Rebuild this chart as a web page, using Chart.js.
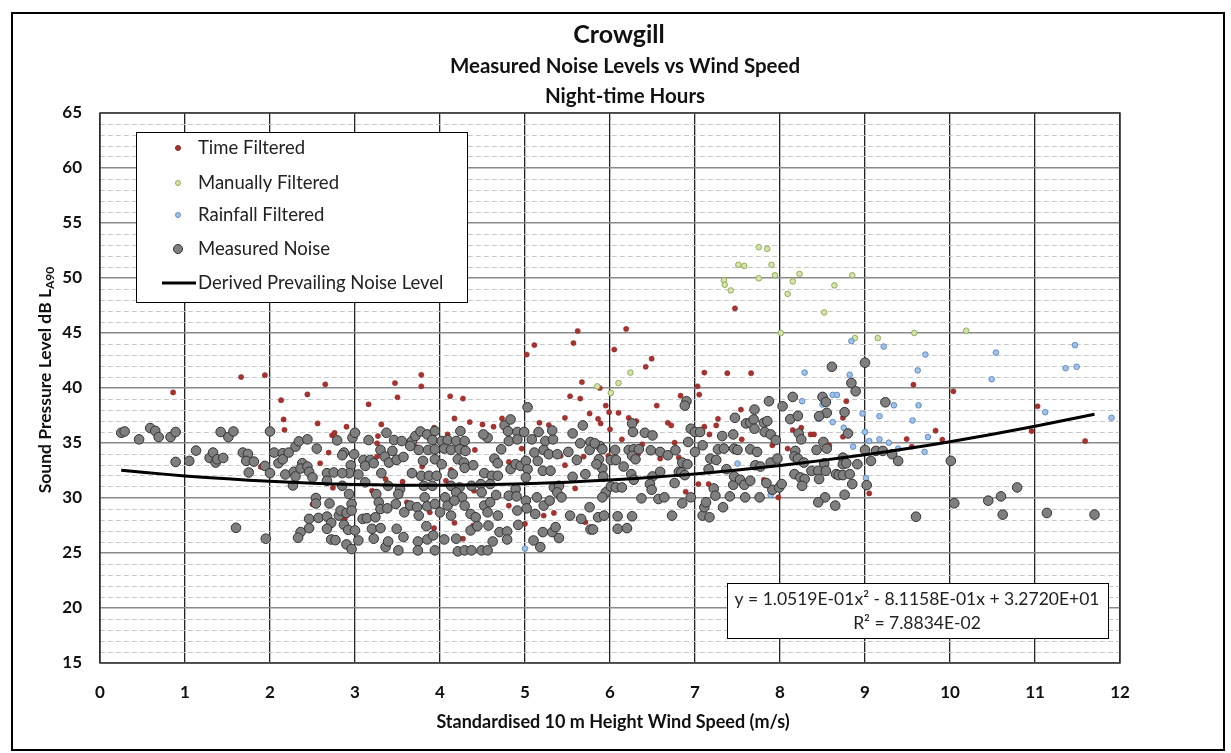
<!DOCTYPE html>
<html>
<head>
<meta charset="utf-8">
<script src="https://cdn.jsdelivr.net/npm/chart.js@4/dist/chart.umd.min.js"></script>
<style>
  html, body { margin: 0; padding: 0; background: #fff; }
  canvas { display: block; }
</style>
</head>
<body>
<canvas id="chart" width="1231" height="753"></canvas>
<script>
// values: [wind speed m/s, dB LA90]
const timeFiltered = [
  [0.86,39.6],[1.66,41.0],[1.94,41.17],[2.13,38.89],[2.16,37.14],[2.17,36.2],[2.44,39.42],[2.65,40.33],[2.56,36.78],
  [2.73,35.7],[2.76,35.93],[2.9,36.48],[2.69,34.13],[2.59,33.16],[2.84,33.77],[1.89,32.83],[2.74,30.93],[2.5,29.43],[2.88,28.1],
  [3.78,41.2],[3.78,40.15],[3.47,40.45],[3.5,39.16],[3.16,38.52],[3.31,36.69],[3.27,35.63],[3.26,34.97],[3.26,33.77],
  [3.36,31.72],[3.2,30.66],[3.56,31.48],[3.71,34.67],[3.79,32.86],[3.79,30.96],[3.82,30.21],[3.61,29.61],[3.93,29.46],
  [3.88,28.7],[3.93,27.26],[3.93,36.39],[4.12,39.25],[4.27,39.04],[4.17,37.23],[4.35,36.9],[4.5,36.69],[4.63,36.48],
  [4.73,37.23],[4.09,35.78],[4.41,34.37],[4.13,32.56],[4.07,31.57],[4.4,30.66],[4.17,27.74],[4.39,27.5],[4.27,26.3],
  [4.81,33.28],[4.81,29.31],[4.96,34.49],[5.0,27.65],[5.17,36.84],[5.28,36.63],[5.47,37.29],[5.53,39.25],[5.65,39.04],
  [5.67,40.54],[5.76,37.68],[5.42,33.83],[5.47,32.98],[5.69,33.77],[5.59,30.87],[5.71,27.8],[5.22,28.4],[5.34,28.64],
  [5.88,40.0],[5.95,38.4],[5.99,37.8],[5.86,37.2],[5.89,36.78],[6.0,36.24],[6.14,35.33],[5.93,34.58],[5.98,33.83],
  [6.1,37.74],[6.22,37.29],[6.31,36.99],[6.33,33.98],[6.38,34.88],[6.55,38.4],[6.68,36.84],[6.72,36.6],[6.59,33.58],
  [6.76,35.03],[6.81,33.67],[6.83,39.3],[6.89,30.57],[7.03,40.15],[7.05,39.4],[7.11,41.4],[7.04,31.27],[7.16,31.27],
  [7.11,36.48],[7.17,35.78],[7.25,36.6],[7.27,37.2],[7.38,41.35],[7.54,38.04],[7.55,35.33],[7.66,41.35],[7.81,31.66],
  [7.91,34.79],[7.98,30.06],[8.09,34.49],[8.15,36.18],[8.25,36.39],[8.36,35.78],[8.4,35.78],[8.58,34.79],[8.74,37.29],
  [6.26,35.93],[6.28,33.58],
  [8.78,38.8],[8.74,35.57],[9.57,40.3],[10.04,39.7],[9.83,36.12],[9.49,35.36],[9.91,35.3],[9.55,34.67],[9.05,30.42],
  [11.03,38.34],[10.96,36.08],[11.59,35.18],[9.11,34.43],
  [5.02,43.04],[5.11,43.9],[5.57,44.08],[5.62,45.18],[6.19,45.37],[6.05,43.5],[6.49,42.67],[6.42,41.93],[7.47,47.24]
];

const manuallyFiltered = [
  [5.85,40.15],[6.24,41.4],[6.1,40.45],[6.01,39.55],
  [7.75,52.8],[7.85,52.65],[7.51,51.2],[7.58,51.1],[7.9,51.2],[7.94,50.25],[7.75,49.97],[7.34,49.79],[7.35,49.39],
  [7.42,48.87],[8.23,50.37],[8.15,49.69],[8.09,48.56],[8.64,49.33],[8.85,50.25],[8.52,46.87],[8.01,45.0],[8.88,44.54],
  [9.15,44.54],[9.58,45.0],[10.19,45.21]
];

const rainfallFiltered = [
  [5.0,25.4],[8.29,41.4],[8.26,38.8],[8.5,38.5],[8.62,39.37],[8.67,39.37],[8.45,37.2],[8.62,36.9],[7.5,33.13],[7.89,30.27],
  [8.82,41.2],[9.62,41.6],[10.49,40.8],[11.36,41.8],[11.49,41.93],[8.97,37.68],[9.17,37.44],[9.34,38.43],[9.63,38.43],
  [9.56,37.05],[8.75,36.39],[9.0,36.0],[9.05,35.18],[9.17,35.33],[9.28,35.03],[9.39,34.49],[9.74,35.54],[9.7,34.19],
  [8.86,34.67],[9.01,31.81],[11.12,37.8],[11.9,37.29],
  [8.84,44.26],[9.22,43.77],[9.71,43.04],[10.54,43.22],[11.47,43.9]
];

const measuredNoise = [
  [0.25,35.93],[0.29,36.05],[0.46,35.33],[0.59,36.36],[0.65,36.1],[0.69,35.54],[0.83,35.54],[0.89,36.0],[0.89,33.28],
  [1.05,33.37],[1.13,34.31],[1.29,33.64],[1.33,34.13],[1.36,33.22],[1.38,33.52],[1.45,33.64],[1.42,36.0],[1.51,35.54],
  [1.57,36.05],[1.6,27.29],[1.68,34.13],[1.74,34.0],[1.72,33.37],[1.81,33.31],[1.75,32.32],[1.94,32.92],[2.0,36.05],
  [2.0,32.26],[1.95,26.3],[2.05,34.13],[2.15,34.07],[2.1,33.16],[2.15,33.52],[2.22,34.13],[2.3,34.67],[2.34,35.15],
  [2.44,35.33],[2.55,34.49],[2.18,32.14],[2.28,32.38],[2.3,31.96],[2.38,33.16],[2.36,32.68],[2.44,32.86],[2.46,32.38],
  [2.5,31.87],[2.27,31.14],[2.67,32.26],[2.75,32.32],[2.79,35.24],[2.87,34.13],[2.85,33.89],[2.95,32.98],[2.93,32.26],
  [2.85,32.26],[2.85,31.11],[2.97,35.48],[3.0,35.93],[2.67,31.57],[2.54,30.0],[2.54,29.5],[2.7,29.5],[2.46,28.1],
  [2.46,27.26],[2.57,28.19],[2.67,28.31],[2.72,27.74],[2.67,27.2],[2.81,28.4],[2.83,28.86],[2.9,28.64],[2.96,29.46],
  [2.96,28.86],[2.87,27.56],[2.92,27.1],[3.0,27.05],[2.36,26.9],[2.33,26.39],[2.72,26.23],[2.77,26.17],[2.9,25.78],
  [2.96,25.36],
  [2.99,33.98],[3.16,35.27],[3.37,35.93],[3.46,35.27],[3.55,35.18],[3.67,35.18],[3.71,35.63],[3.77,36.05],[3.85,35.78],
  [3.94,36.08],[3.91,35.27],[4.02,35.18],[4.09,35.27],[4.24,36.08],[4.19,35.18],[4.29,35.18],[4.56,35.48],[4.51,35.78],
  [4.76,36.6],[4.83,37.14],[4.8,36.08],[4.91,36.0],[4.99,36.0],[5.03,38.25],[4.81,35.18],[4.91,35.33],[5.08,35.33],
  [5.24,35.18],[5.33,35.33],[5.32,36.14],[5.16,36.0],[5.56,35.87],[5.68,36.6],[5.77,35.09],[5.65,34.97],
  [3.1,33.46],[3.18,33.46],[3.12,32.92],[3.22,33.16],[3.3,34.37],[3.35,33.77],[3.44,34.28],[3.4,33.22],[3.49,33.46],
  [3.57,33.73],[3.65,34.73],[3.75,34.37],[3.86,34.37],[3.94,34.43],[3.8,33.37],[3.94,33.52],[4.02,33.07],[4.05,34.49],
  [4.13,34.37],[4.23,34.43],[4.3,34.28],[4.21,33.52],[4.28,33.22],[4.39,32.98],[4.29,32.74],[4.64,33.58],[4.72,34.43],
  [4.68,33.16],[4.83,32.62],[4.89,33.07],[4.95,32.92],[5.01,33.37],[5.03,32.62],[5.11,34.13],[5.22,34.37],[5.28,33.98],
  [5.15,33.37],[5.38,33.98],[5.51,34.19],[5.61,33.46],[5.76,34.37],[5.88,34.73],
  [3.04,32.14],[3.12,31.42],[3.31,32.26],[3.39,31.11],[3.53,30.81],[3.67,32.26],[3.78,32.02],[3.87,32.02],[3.96,32.02],
  [3.81,31.11],[3.91,31.11],[4.15,32.17],[4.13,31.11],[4.23,30.96],[4.37,31.11],[4.52,32.26],[4.61,32.02],[4.68,32.02],
  [4.48,31.27],[4.59,31.27],[4.89,30.81],[5.01,31.87],[5.21,32.47],[5.3,32.47],[5.34,30.96],[5.4,31.11],[5.56,31.93],
  [5.71,32.17],
  [2.93,30.36],[3.09,28.1],[3.14,28.16],[3.25,30.36],[3.28,29.61],[3.3,29.0],[3.24,28.25],[3.38,29.06],[3.48,29.46],
  [3.58,28.7],[3.51,30.36],[3.65,29.31],[3.73,29.16],[3.75,28.4],[3.82,30.06],[3.85,29.25],[3.94,29.46],[4.0,28.7],
  [4.06,30.06],[4.09,29.31],[4.13,28.4],[4.19,30.51],[4.26,30.06],[4.17,29.76],[4.29,29.31],[4.36,28.55],[4.42,28.25],
  [4.49,30.51],[4.52,29.31],[4.59,29.61],[4.66,30.27],[4.56,28.7],[4.68,28.4],[4.81,30.21],[4.9,30.15],[5.01,29.76],
  [4.91,28.86],[5.02,29.06],[5.14,30.06],[5.22,29.31],[5.12,28.55],[5.29,29.76],[5.38,30.51],[5.43,30.06],[5.53,28.4],
  [5.66,28.1],[5.76,29.16],
  [3.04,26.14],[3.2,27.2],[3.3,27.26],[3.22,26.3],[3.36,25.54],[3.39,26.05],[3.51,25.24],[3.49,27.2],[3.57,26.45],
  [3.74,26.05],[3.74,25.24],[3.84,27.44],[3.85,26.23],[3.92,26.6],[3.94,25.24],[4.05,26.23],[4.19,26.3],[4.21,25.15],
  [4.29,25.24],[4.37,25.24],[4.36,27.05],[4.44,27.44],[4.49,25.24],[4.56,25.24],[4.57,27.5],[4.7,26.9],[4.79,26.96],
  [4.62,26.05],[4.79,26.23],[4.92,27.56],[5.1,26.14],[5.18,25.54],[5.21,26.9],[5.32,26.9],[5.4,26.36],[5.36,27.35],
  [5.77,27.14],
  [5.82,34.97],[5.91,34.43],[5.87,33.52],[5.91,32.68],[5.84,33.07],[5.92,31.96],[5.95,30.51],[5.91,30.06],[5.86,28.25],
  [5.93,28.4],[5.8,27.14],[6.01,33.46],[6.07,33.46],[6.06,34.37],[6.01,31.05],[6.07,30.96],[6.14,30.96],[6.16,32.86],
  [6.09,28.34],[6.09,27.2],[6.2,27.26],[6.26,28.34],[6.26,36.78],[6.27,36.0],[6.22,34.37],[6.28,34.43],[6.34,34.43],
  [6.26,33.83],[6.3,33.52],[6.25,32.17],[6.28,31.66],[6.37,29.97],[6.41,35.93],[6.5,35.69],[6.48,34.34],[6.59,34.19],
  [6.5,31.96],[6.47,31.27],[6.49,30.75],[6.57,29.91],[6.64,30.06],[6.59,32.38],[6.68,33.89],[6.77,34.34],[6.76,31.36],
  [6.73,28.4],[6.81,32.38],[6.85,33.22],[6.84,32.32],[6.88,32.08],[6.91,33.07],[6.9,38.8],[6.88,38.4],[6.85,29.52],
  [6.92,35.09],[6.95,30.06],[6.95,36.3],[7.0,36.0],[7.0,34.19],[7.06,36.0],[7.09,34.79],[7.09,28.4],[7.11,29.16],
  [7.13,29.61],[7.17,28.25],[7.16,32.62],[7.18,33.58],[7.25,33.46],[7.22,30.87],[7.24,30.21],[7.27,34.43],[7.34,34.49],
  [7.32,35.63],[7.33,29.16],[7.37,32.62],[7.41,30.15],[7.45,35.78],[7.46,34.49],[7.47,37.29],[7.45,31.2],[7.46,31.96],
  [7.53,31.66],[7.58,31.2],[7.59,30.06],[7.5,34.37],[7.6,36.78],[7.65,36.84],[7.7,38.04],[7.69,37.14],[7.65,34.43],
  [7.73,34.19],[7.65,31.57],[7.7,36.3],[7.71,32.98],[7.77,32.86],[7.81,36.84],[7.85,36.99],[7.87,38.8],[7.82,36.0],
  [7.89,35.78],[7.95,35.27],[7.89,33.22],[7.97,33.58],[7.91,30.75],[7.99,30.96],[8.03,38.34],[8.02,31.27],[7.76,30.06],
  [7.84,31.36],[8.12,37.17],[8.15,39.19],[8.21,37.47],[8.22,35.87],[8.25,35.33],[8.18,34.28],[8.17,33.77],[8.21,33.58],
  [8.28,33.22],[8.17,32.17],[8.24,31.87],[8.29,31.72],[8.26,31.11],[8.37,32.47],[8.45,32.47],[8.46,31.72],[8.43,34.37],
  [8.51,35.09],[8.52,33.16],[8.54,32.47],[8.53,30.06],[8.45,29.61],[8.65,29.31],[8.5,39.19],[8.54,38.73],[8.55,37.74],
  [8.46,37.44],[8.55,34.49],[8.66,32.17],[8.69,32.08],
  [8.84,40.45],[8.89,39.7],[8.76,37.8],[8.8,35.87],[8.74,33.67],[8.74,33.07],[8.78,33.16],[8.74,32.08],[8.82,32.17],
  [8.85,31.27],[8.76,30.3],[8.91,33.07],[9.0,34.37],[9.13,34.28],[9.21,34.28],[9.32,33.98],[9.07,33.37],[9.39,33.37],
  [9.02,31.17],[9.24,38.7],[9.6,28.3],[10.01,33.37],[10.05,29.52],[10.45,29.76],[10.6,30.15],[10.79,30.96],[10.62,28.49],
  [11.14,28.64],[11.7,28.49],[8.61,41.93],[9.0,42.3]
];

// derived prevailing noise level
const derivedLevel = [
  [0.25,32.52],[0.5,32.34],[1,32.01],[1.5,31.74],[2,31.52],[2.5,31.35],[3,31.23],[3.5,31.17],[4,31.16],[4.5,31.2],
  [5,31.29],[5.5,31.44],[6,31.64],[6.5,31.89],[7,32.19],[7.5,32.55],[8,32.96],[8.5,33.42],[9,33.94],[9.5,34.5],
  [10,35.12],[10.5,35.8],[11,36.52],[11.7,37.62]
];

const seriesNames = ['Time Filtered', 'Manually Filtered', 'Rainfall Filtered', 'Measured Noise', 'Derived Prevailing Noise Level'];
const titleLines = ['Crowgill', 'Measured Noise Levels vs Wind Speed', 'Night-time Hours'];
const equationLines = ['y = 1.0519E-01x\u00B2 - 8.1158E-01x + 3.2720E+01', 'R\u00B2 = 7.8834E-02'];
const xTitle = 'Standardised 10 m Height Wind Speed (m/s)';

const FONT = 'Lato, "Open Sans", sans-serif';
const toXY = arr => arr.map(p => ({ x: p[0], y: p[1] }));

// draws titles, framed legend, equation box and outer border
const decor = {
  id: 'decor',
  beforeDraw(chart) {
    const ctx = chart.ctx;
    ctx.save();
    ctx.fillStyle = '#fff';
    ctx.fillRect(0, 0, chart.width, chart.height);
    ctx.restore();
  },
  beforeDatasetsDraw(chart) {
    const { ctx, chartArea: a } = chart;
    ctx.save();
    ctx.strokeStyle = '#333';
    ctx.lineWidth = 1.5;
    ctx.strokeRect(a.left, a.top, a.right - a.left, a.bottom - a.top);
    ctx.restore();
  },
  afterDatasetsDraw(chart) {
    const ctx = chart.ctx;
    const ds = chart.data.datasets;
    ctx.save();

    // legend
    ctx.fillStyle = '#fff';
    ctx.fillRect(136, 132, 331, 170);
    ctx.strokeStyle = '#000';
    ctx.lineWidth = 1;
    ctx.strokeRect(136.5, 132.5, 331, 170);
    const rows = [148, 183, 215, 249, 283];
    ctx.font = '18.5px ' + FONT;
    ctx.textBaseline = 'middle';
    ds.forEach((d, i) => {
      const y = rows[i];
      if (i < 4) {
        ctx.beginPath();
        ctx.arc(178, y, i === 3 ? 4.5 : 2.5, 0, Math.PI * 2);
        ctx.fillStyle = d.backgroundColor;
        ctx.fill();
        ctx.lineWidth = 1;
        ctx.strokeStyle = d.borderColor;
        ctx.stroke();
      } else {
        ctx.beginPath();
        ctx.moveTo(162, y);
        ctx.lineTo(196, y);
        ctx.lineWidth = 3;
        ctx.strokeStyle = '#000';
        ctx.stroke();
      }
      ctx.fillStyle = '#222';
      ctx.textAlign = 'left';
      ctx.fillText(seriesNames[i], 198, y);
    });

    // trendline equation
    ctx.fillStyle = '#fff';
    ctx.fillRect(727, 583, 381, 55);
    ctx.strokeStyle = '#000';
    ctx.lineWidth = 1;
    ctx.strokeRect(727.5, 583.5, 381, 55);
    ctx.fillStyle = '#222';
    ctx.textAlign = 'center';
    ctx.font = '17.5px ' + FONT;
    ctx.fillText(equationLines[0], 917, 599);
    ctx.fillText(equationLines[1], 917, 623);
    ctx.restore();
  },
  afterDraw(chart) {
    const ctx = chart.ctx;
    ctx.save();
    ctx.fillStyle = '#111';
    ctx.textAlign = 'center';
    ctx.textBaseline = 'middle';
    ctx.font = 'bold 25px ' + FONT;
    ctx.fillText(titleLines[0], 619, 35);
    ctx.font = 'bold 20.5px ' + FONT;
    ctx.fillText(titleLines[1], 625, 66);
    ctx.fillText(titleLines[2], 625, 96);

    // x title
    ctx.font = 'bold 18px ' + FONT;
    ctx.fillText(xTitle, 613, 722);

    // y title with subscript
    ctx.translate(45, 380);
    ctx.rotate(-Math.PI / 2);
    const main = 'Sound Pressure Level dB L';
    const sub = 'A90';
    ctx.font = 'bold 17.5px ' + FONT;
    const w1 = ctx.measureText(main).width;
    ctx.font = 'bold 12px ' + FONT;
    const w2 = ctx.measureText(sub).width;
    const start = -(w1 + w2) / 2;
    ctx.textAlign = 'left';
    ctx.font = 'bold 17.5px ' + FONT;
    ctx.fillText(main, start, 0);
    ctx.font = 'bold 12px ' + FONT;
    ctx.fillText(sub, start + w1, 5);
    ctx.restore();

    // outer frame
    ctx.save();
    ctx.strokeStyle = '#000';
    ctx.lineWidth = 2;
    ctx.strokeRect(12, 13, 1212, 737);
    ctx.restore();
  }
};

new Chart(document.getElementById('chart'), {
  type: 'scatter',
  data: {
    datasets: [
      {
        label: seriesNames[0],
        data: toXY(timeFiltered),
        backgroundColor: '#A8322F',
        borderColor: '#8E2826',
        borderWidth: 0.5,
        pointRadius: 2.6,
        order: 5
      },
      {
        label: seriesNames[1],
        data: toXY(manuallyFiltered),
        backgroundColor: '#D4E3B0',
        borderColor: '#93AE55',
        borderWidth: 1,
        pointRadius: 2.8,
        order: 4
      },
      {
        label: seriesNames[2],
        data: toXY(rainfallFiltered),
        backgroundColor: '#A3C1E6',
        borderColor: '#5E8FC9',
        borderWidth: 1,
        pointRadius: 2.8,
        order: 3
      },
      {
        label: seriesNames[3],
        data: toXY(measuredNoise),
        backgroundColor: '#7F7F7F',
        borderColor: '#333',
        borderWidth: 1,
        pointRadius: 4.8,
        order: 2
      },
      {
        label: seriesNames[4],
        data: toXY(derivedLevel),
        showLine: true,
        borderColor: '#000',
        borderWidth: 3,
        pointRadius: 0,
        tension: 0.3,
        fill: false,
        order: 1
      }
    ]
  },
  options: {
    responsive: false,
    animation: false,
    devicePixelRatio: 1,
    layout: { padding: { left: 0, top: 113, right: 111, bottom: 0 } },
    plugins: {
      legend: { display: false },
      tooltip: { enabled: false },
      title: { display: false }
    },
    scales: {
      x: {
        type: 'linear',
        min: 0,
        max: 12,
        afterFit: s => { s.height = 90; },
        ticks: {
          stepSize: 1,
          padding: 19,
          color: '#111',
          font: { family: FONT, size: 17, weight: 'bold' }
        },
        grid: { color: '#222', lineWidth: 1.3, drawTicks: false },
        border: { display: false }
      },
      y: {
        type: 'linear',
        min: 15,
        max: 65,
        afterFit: s => { s.width = 100; },
        ticks: {
          stepSize: 1,
          autoSkip: false,
          padding: 18,
          color: '#111',
          font: { family: FONT, size: 17, weight: 'bold' },
          callback: v => (v % 5 === 0 ? v : '')
        },
        grid: {
          drawTicks: false,
          color: c => (c.tick && c.tick.value % 5 === 0 ? '#8a8a8a' : '#c8c8c8'),
          lineWidth: c => (c.tick && c.tick.value % 5 === 0 ? 1.6 : 1)
        },
        border: {
          display: false,
          dash: c => (c.tick && c.tick.value % 5 === 0 ? [] : [5, 3])
        }
      }
    }
  },
  plugins: [decor]
});
</script>
</body>
</html>
